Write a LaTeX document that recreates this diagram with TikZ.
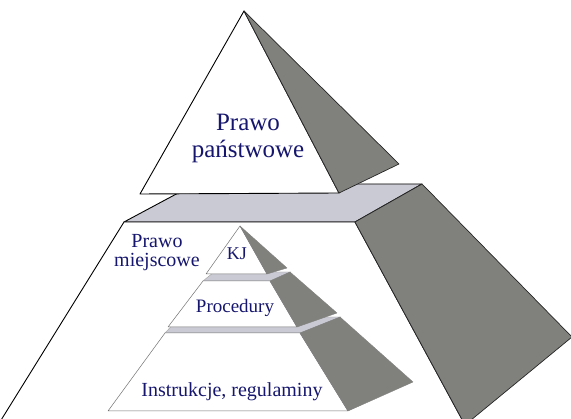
\documentclass[tikz,border=0pt]{standalone}
\usepackage{fontspec}
\setmainfont{Liberation Serif}
\newfontfamily\lblfont{Liberation Serif}
\definecolor{sidegray}{RGB}{128,128,124}
\definecolor{topgray}{RGB}{201,202,211}
\definecolor{ink}{RGB}{22,22,110}
\begin{document}
\begin{tikzpicture}[x=1pt,y=-1pt,
  front/.style={fill=white,draw=black,line width=0.9pt,line join=round},
  side/.style={fill=sidegray,draw=black!85,line width=0.7pt,line join=round},
  topface/.style={fill=topgray,draw=black,line width=0.9pt,line join=round},
  sfront/.style={fill=white,draw=black!55,line width=0.5pt,line join=round},
  sside/.style={fill=sidegray,draw=black!50,line width=0.4pt,line join=round},
  stop/.style={fill=topgray,draw=black!35,line width=0.4pt,line join=round},
  lbl/.style={text=ink,inner sep=0pt,align=center}]
\useasboundingbox (0,0) rectangle (571,419);
\clip (0,0) rectangle (571,419);
% lower frustum (local law)
\draw[topface] (124,222) -- (355,222) -- (422,184) -- (195,184) -- cycle;
\draw[front] (124,222) -- (355,222) -- (465,425) -- (-2,425) -- cycle;
\draw[side] (355,222) -- (422,184) -- (572,337) -- (465,425) -- cycle;
% top pyramid (state law)
\draw[front] (244,11) -- (140,194) -- (339,193) -- cycle;
\draw[side] (244,11) -- (399,164) -- (339,193) -- cycle;
% small pyramid: bottom tier
\draw[stop] (165,333) -- (300,333) -- (341,317) -- (180,317) -- cycle;
\draw[sfront] (165,333) -- (300,333) -- (348,411) -- (108,411) -- cycle;
\draw[sside] (300,333) -- (340,317) -- (413,382) -- (348,411) -- cycle;
% middle tier
\draw[stop] (203,281) -- (270,281) -- (291,272) -- (214,272) -- cycle;
\draw[sfront] (203,281) -- (270,281) -- (297,327) -- (168,327) -- cycle;
\draw[sside] (270,281) -- (290,272) -- (337,313) -- (297,327) -- cycle;
% top tier
\draw[sfront] (240,226) -- (267,274) -- (206,274) -- cycle;
\draw[sside] (240,226) -- (287,268) -- (267,274) -- cycle;
% labels
\node[lbl,font=\lblfont\fontsize{25}{27}\selectfont] (panstwowe) at (248,138) {Prawo\\państwowe};
\node[lbl,font=\lblfont\fontsize{20}{19}\selectfont] (miejscowe) at (157,253) {Prawo\\miejscowe};
\node[lbl,font=\lblfont\fontsize{18}{20}\selectfont,anchor=base] (kj) at (237,260) {KJ};
\node[lbl,font=\lblfont\fontsize{19}{20}\selectfont,anchor=base] (procedury) at (235,313) {Procedury};
\node[lbl,font=\lblfont\fontsize{20}{22}\selectfont,anchor=base] (instrukcje) at (232,397) {Instrukcje, regulaminy};
\end{tikzpicture}
\end{document}
